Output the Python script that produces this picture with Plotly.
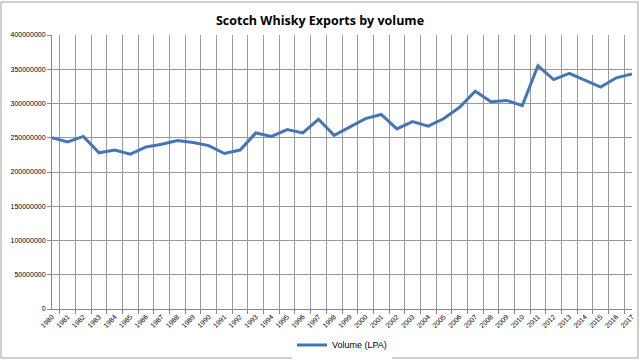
import plotly.graph_objects as go

years = [str(y) for y in range(1980, 2018)]
volume_lpa = [
    250e6, 244e6, 252e6, 228e6, 232e6, 226e6, 236.5e6, 240.5e6, 246e6, 243e6,
    238.5e6, 227e6, 232e6, 257e6, 252e6, 262e6, 257e6, 277e6, 253.5e6, 266e6,
    278e6, 284e6, 263e6, 273.5e6, 267e6, 278e6, 294.5e6, 318e6, 302.5e6, 304.5e6,
    297e6, 355e6, 335e6, 344e6, 334e6, 324e6, 337.5e6, 343e6,
]
y_ticks = list(range(0, 400000001, 50000000))

fig = go.Figure()
fig.add_trace(go.Scatter(
    x=years, y=volume_lpa, mode="lines", name="Volume (LPA)",
    line=dict(color="#4475b8", width=3),
))

fig.update_layout(
    width=640, height=360,
    paper_bgcolor="white", plot_bgcolor="white",
    margin=dict(l=52, r=8, t=35, b=51, autoexpand=False),
    title=dict(text="<b>Scotch Whisky Exports by volume</b>", x=0.5, xanchor="center",
               y=0.944, yanchor="middle",
               font=dict(family="Open Sans, Liberation Sans, sans-serif", size=12.5, color="#000")),
    font=dict(family="Liberation Sans, Arial, sans-serif", color="#000"),
    showlegend=True,
    legend=dict(orientation="h", x=0.5, xanchor="center", y=-0.131, yanchor="middle",
                font=dict(size=9), itemwidth=30),
    shapes=[dict(type="rect", xref="paper", yref="paper", x0=-51/580, x1=1+6/580,
                 y0=-49/274, y1=1+33/274, line=dict(color="#a0a0a0", width=1))],
)
fig.update_xaxes(
    type="category", tickson="boundaries", showgrid=True, gridcolor="#9a9a9a", gridwidth=1,
    tickangle=-45, tickfont=dict(size=7), ticks="outside", ticklen=4, tickcolor="#888",
    showline=True, linecolor="#888", linewidth=1, mirror=False, automargin=False,
)
fig.update_yaxes(
    range=[0, 400000000], tickvals=y_ticks, ticktext=[str(v) for v in y_ticks],
    showgrid=True, gridcolor="#9a9a9a", gridwidth=1, tickfont=dict(size=7),
    ticks="outside", ticklen=4, tickcolor="#888", automargin=False,
    showline=True, linecolor="#888", linewidth=1, zeroline=False,
)

fig.write_html("out.html", config={"displayModeBar": False},
               post_script="document.body.style.margin='0';")
